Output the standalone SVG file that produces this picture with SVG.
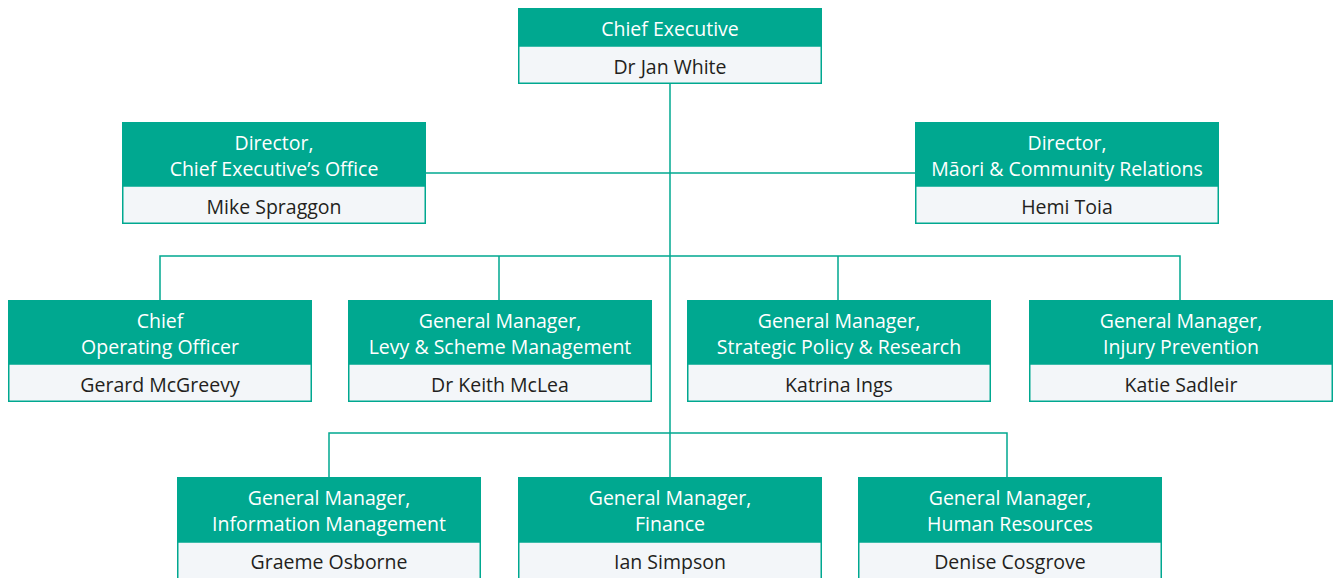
<svg xmlns="http://www.w3.org/2000/svg" width="1339" height="578" viewBox="0 0 1339 578">
  <style>
    .hd { fill: #00a890; }
    .nm { fill: #f3f6f9; stroke: #00a890; stroke-width: 1.5; }
    .ht { fill: #ffffff; font-family: "Open Sans", sans-serif; font-size: 19.5px; text-anchor: middle; }
    .nt { fill: #231f20; font-family: "Open Sans", sans-serif; font-size: 19.5px; text-anchor: middle; }
    .ln { fill: none; stroke: #00a890; stroke-width: 1.5; }
  </style>
  <rect width="1339" height="578" fill="#ffffff"/>

  <g id="connectors">
    <path class="ln" d="M670 84 V477"/>
    <path class="ln" d="M426 173 H915"/>
    <path class="ln" d="M160 300 V256 H1180 V300 M499 256 V300 M838 256 V300"/>
    <path class="ln" d="M329 477 V433 H1007 V477"/>
  </g>

  <g id="chief-executive">
    <rect class="nm" x="518.75" y="46" width="302.5" height="37.25"/>
    <rect class="hd" x="518" y="8" width="304" height="38"/>
    <text class="ht" x="670" y="36">Chief Executive</text>
    <text class="nt" x="670" y="74">Dr Jan White</text>
  </g>

  <g id="director-ceo">
    <rect class="nm" x="122.75" y="186" width="302.5" height="37.25"/>
    <rect class="hd" x="122" y="122" width="304" height="64"/>
    <text class="ht" x="274" y="150">Director,</text>
    <text class="ht" x="274" y="176">Chief Executive’s Office</text>
    <text class="nt" x="274" y="214">Mike Spraggon</text>
  </g>

  <g id="director-maori">
    <rect class="nm" x="915.75" y="186" width="302.5" height="37.25"/>
    <rect class="hd" x="915" y="122" width="304" height="64"/>
    <text class="ht" x="1067" y="150">Director,</text>
    <text class="ht" x="1067" y="176">Māori &amp; Community Relations</text>
    <text class="nt" x="1067" y="214">Hemi Toia</text>
  </g>

  <g id="coo">
    <rect class="nm" x="8.75" y="364" width="302.5" height="37.25"/>
    <rect class="hd" x="8" y="300" width="304" height="64"/>
    <text class="ht" x="160" y="328">Chief</text>
    <text class="ht" x="160" y="354">Operating Officer</text>
    <text class="nt" x="160" y="392">Gerard McGreevy</text>
  </g>

  <g id="gm-levy">
    <rect class="nm" x="348.75" y="364" width="302.5" height="37.25"/>
    <rect class="hd" x="348" y="300" width="304" height="64"/>
    <text class="ht" x="500" y="328">General Manager,</text>
    <text class="ht" x="500" y="354">Levy &amp; Scheme Management</text>
    <text class="nt" x="500" y="392">Dr Keith McLea</text>
  </g>

  <g id="gm-policy">
    <rect class="nm" x="687.75" y="364" width="302.5" height="37.25"/>
    <rect class="hd" x="687" y="300" width="304" height="64"/>
    <text class="ht" x="839" y="328">General Manager,</text>
    <text class="ht" x="839" y="354">Strategic Policy &amp; Research</text>
    <text class="nt" x="839" y="392">Katrina Ings</text>
  </g>

  <g id="gm-injury">
    <rect class="nm" x="1029.75" y="364" width="302.5" height="37.25"/>
    <rect class="hd" x="1029" y="300" width="304" height="64"/>
    <text class="ht" x="1181" y="328">General Manager,</text>
    <text class="ht" x="1181" y="354">Injury Prevention</text>
    <text class="nt" x="1181" y="392">Katie Sadleir</text>
  </g>

  <g id="gm-information">
    <rect class="nm" x="177.75" y="542" width="302.5" height="40"/>
    <rect class="hd" x="177" y="477" width="304" height="65"/>
    <text class="ht" x="329" y="505">General Manager,</text>
    <text class="ht" x="329" y="531">Information Management</text>
    <text class="nt" x="329" y="569">Graeme Osborne</text>
  </g>

  <g id="gm-finance">
    <rect class="nm" x="518.75" y="542" width="302.5" height="40"/>
    <rect class="hd" x="518" y="477" width="304" height="65"/>
    <text class="ht" x="670" y="505">General Manager,</text>
    <text class="ht" x="670" y="531">Finance</text>
    <text class="nt" x="670" y="569">Ian Simpson</text>
  </g>

  <g id="gm-hr">
    <rect class="nm" x="858.75" y="542" width="302.5" height="40"/>
    <rect class="hd" x="858" y="477" width="304" height="65"/>
    <text class="ht" x="1010" y="505">General Manager,</text>
    <text class="ht" x="1010" y="531">Human Resources</text>
    <text class="nt" x="1010" y="569">Denise Cosgrove</text>
  </g>
</svg>
